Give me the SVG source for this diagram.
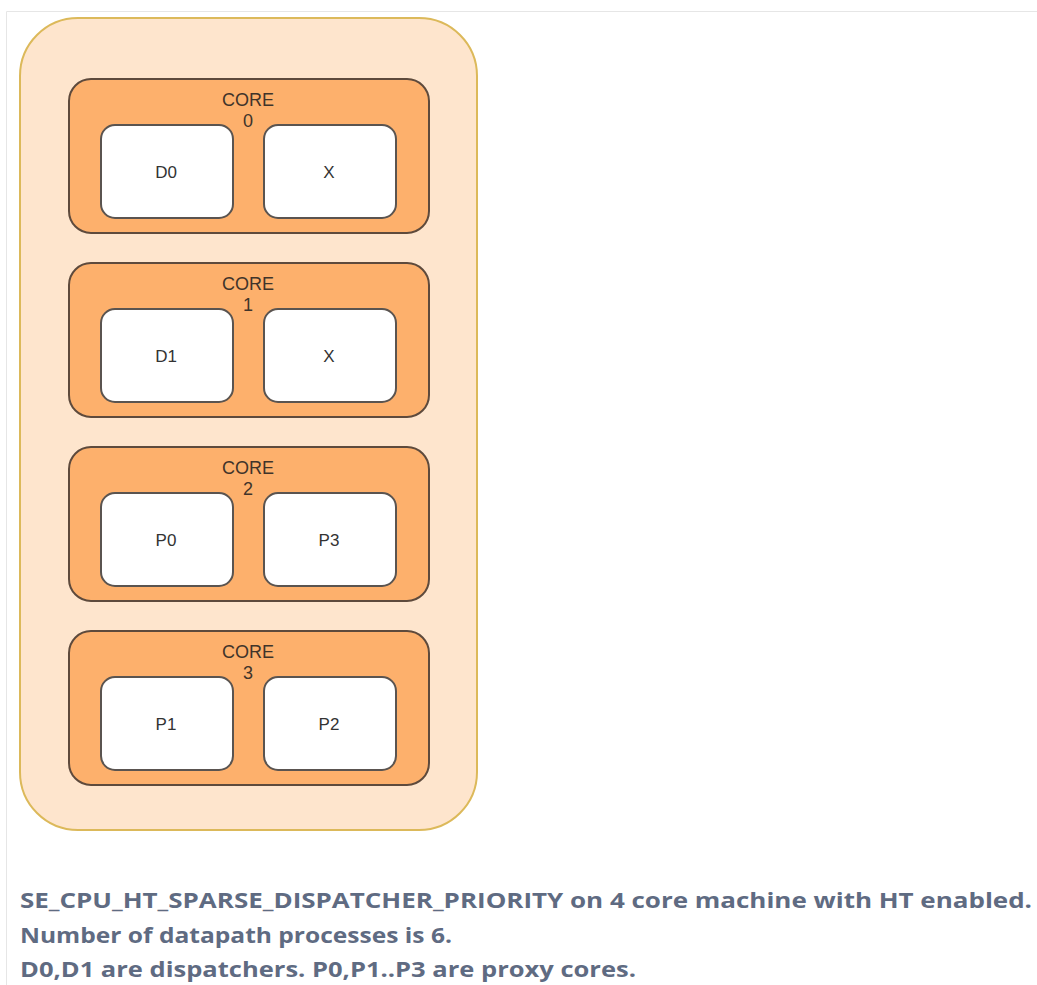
<svg xmlns="http://www.w3.org/2000/svg" width="1037" height="985" viewBox="0 0 1037 985">
<style>
.core{fill:#fdb06c;stroke:#5e4a3c;stroke-width:2}
.cell{fill:#ffffff;stroke:#5a5450;stroke-width:2}
.clabel{font-family:"Liberation Sans",Arial,sans-serif;font-size:18px;fill:#40342a;text-anchor:middle}
.label{font-family:"Liberation Sans",Arial,sans-serif;font-size:17px;fill:#333333;text-anchor:middle}
.note{font-family:"Open Sans","Noto Sans",sans-serif;font-size:22px;font-weight:bold;fill:#5f6b82}
</style>
<rect x="0" y="0" width="1037" height="985" fill="#ffffff"/>
<path d="M6.5 985 V11.5 H1037" fill="none" stroke="#e6e6e6" stroke-width="1"/>
<g id="machine">
<rect x="20" y="18" width="457" height="812" rx="58" ry="58" fill="#fee5cd" stroke="#dcb95a" stroke-width="2"/>
</g>
<g id="core0">
<rect class="core" x="69" y="79" width="360" height="154" rx="22"/>
<text class="clabel" x="248" y="106">CORE</text>
<text class="clabel" x="248" y="127">0</text>
</g>
<g id="core0-d0"><rect class="cell" x="101" y="125" width="132" height="93" rx="14"/><text class="label" x="166" y="178">D0</text></g>
<g id="core0-x"><rect class="cell" x="264" y="125" width="132" height="93" rx="14"/><text class="label" x="329" y="178">X</text></g>
<g id="core1">
<rect class="core" x="69" y="263" width="360" height="154" rx="22"/>
<text class="clabel" x="248" y="290">CORE</text>
<text class="clabel" x="248" y="311">1</text>
</g>
<g id="core1-d1"><rect class="cell" x="101" y="309" width="132" height="93" rx="14"/><text class="label" x="166" y="362">D1</text></g>
<g id="core1-x"><rect class="cell" x="264" y="309" width="132" height="93" rx="14"/><text class="label" x="329" y="362">X</text></g>
<g id="core2">
<rect class="core" x="69" y="447" width="360" height="154" rx="22"/>
<text class="clabel" x="248" y="474">CORE</text>
<text class="clabel" x="248" y="495">2</text>
</g>
<g id="core2-p0"><rect class="cell" x="101" y="493" width="132" height="93" rx="14"/><text class="label" x="166" y="546">P0</text></g>
<g id="core2-p3"><rect class="cell" x="264" y="493" width="132" height="93" rx="14"/><text class="label" x="329" y="546">P3</text></g>
<g id="core3">
<rect class="core" x="69" y="631" width="360" height="154" rx="22"/>
<text class="clabel" x="248" y="658">CORE</text>
<text class="clabel" x="248" y="679">3</text>
</g>
<g id="core3-p1"><rect class="cell" x="101" y="677" width="132" height="93" rx="14"/><text class="label" x="166" y="730">P1</text></g>
<g id="core3-p2"><rect class="cell" x="264" y="677" width="132" height="93" rx="14"/><text class="label" x="329" y="730">P2</text></g>
<g id="connectors"></g>
<g id="caption">
<text class="note" x="20" y="908" textLength="1012" lengthAdjust="spacingAndGlyphs">SE_CPU_HT_SPARSE_DISPATCHER_PRIORITY on 4 core machine with HT enabled.</text>
<text class="note" x="20" y="943" textLength="432" lengthAdjust="spacingAndGlyphs">Number of datapath processes is 6.</text>
<text class="note" x="20" y="977" textLength="616" lengthAdjust="spacingAndGlyphs">D0,D1 are dispatchers. P0,P1..P3 are proxy cores.</text>
</g>
</svg>
